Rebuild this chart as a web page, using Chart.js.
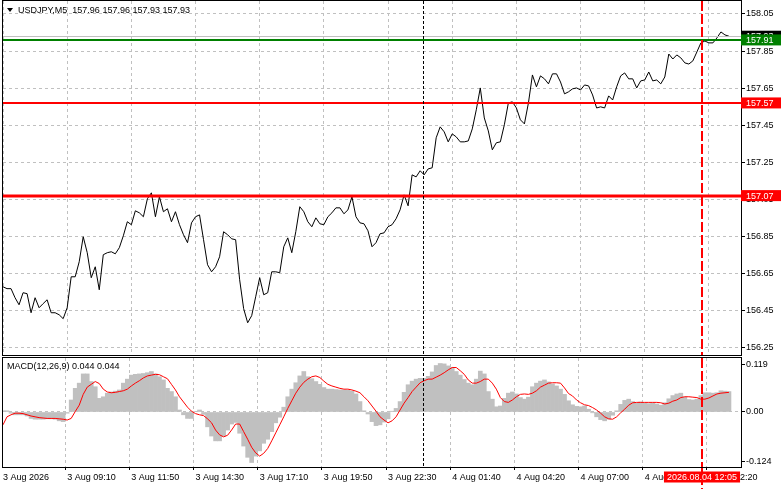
<!DOCTYPE html>
<html lang="en">
<head>
  <meta charset="UTF-8" />
  <title>USDJPY,M5 - MACD</title>
  <script src="https://cdn.jsdelivr.net/npm/chart.js"></script>
  <style>
    html, body { margin: 0; padding: 0; background: #fff; }
    body { width: 781px; height: 489px; position: relative; overflow: hidden; }
    canvas { position: absolute; left: 0; }
    #priceChart { top: 0; }
    #macdChart { top: 357px; }
  </style>
</head>
<body>
  <canvas id="priceChart" width="781" height="357"></canvas>
  <canvas id="macdChart" width="781" height="132"></canvas>

  <script>
    // time axis: one sample every 10 minutes, a label every 16 samples
    const tickLabels = ['3 Aug 2026', '3 Aug 09:10', '3 Aug 11:50', '3 Aug 14:30', '3 Aug 17:10', '3 Aug 19:50',
      '3 Aug 22:30', '4 Aug 01:40', '4 Aug 04:20', '4 Aug 07:00', '4 Aug 09:40', '4 Aug 12:20'];
    const samplesPerTick = 16;
    const totalSlots = 185;

    // close prices
    const closes = [
      156.578, 156.568, 156.568, 156.519, 156.481, 156.546, 156.541, 156.438, 156.519, 156.465,
      156.487, 156.508, 156.438, 156.438, 156.427, 156.406, 156.465, 156.632, 156.632, 156.713,
      156.848, 156.762, 156.627, 156.686, 156.562, 156.751, 156.762, 156.767, 156.756, 156.789,
      156.853, 156.929, 156.913, 156.988, 156.977, 156.956, 157.053, 157.085, 156.956, 157.064,
      156.983, 156.999, 156.929, 156.983, 156.913, 156.859, 156.816, 156.923, 156.956, 156.966,
      156.832, 156.697, 156.659, 156.686, 156.740, 156.875, 156.859, 156.837, 156.832, 156.616,
      156.460, 156.384, 156.422, 156.524, 156.627, 156.535, 156.546, 156.659, 156.659, 156.654,
      156.794, 156.842, 156.762, 156.875, 157.010, 156.983, 156.929, 156.902, 156.950, 156.918,
      156.913, 156.956, 156.977, 157.004, 157.004, 156.972, 156.993, 157.064, 156.956, 156.923,
      156.918, 156.880, 156.794, 156.816, 156.864, 156.869, 156.902, 156.913, 156.945, 156.993,
      157.074, 157.015, 157.182, 157.171, 157.204, 157.182, 157.214, 157.220, 157.382, 157.441,
      157.414, 157.360, 157.403, 157.387, 157.360, 157.360, 157.365, 157.430, 157.533, 157.651,
      157.489, 157.419, 157.317, 157.355, 157.360, 157.452, 157.570, 157.576, 157.543, 157.479,
      157.457, 157.570, 157.721, 157.657, 157.716, 157.700, 157.673, 157.727, 157.727, 157.683,
      157.619, 157.630, 157.646, 157.651, 157.640, 157.667, 157.662, 157.613, 157.543, 157.549,
      157.543, 157.608, 157.586, 157.657, 157.716, 157.732, 157.700, 157.700, 157.651, 157.689,
      157.694, 157.737, 157.689, 157.694, 157.673, 157.710, 157.834, 157.807, 157.829, 157.813,
      157.786, 157.780, 157.797, 157.845, 157.894, 157.904, 157.894, 157.894, 157.921, 157.953,
      157.937, 157.930
    ];

    // MACD(12,26,9): main histogram and signal line
    const macdMain = [
      0.003, 0.003, -0.003, -0.007, -0.007, -0.007, -0.010, -0.016, -0.018, -0.018,
      -0.018, -0.017, -0.017, -0.018, -0.022, -0.024, -0.003, 0.030, 0.059, 0.072,
      0.095, 0.095, 0.076, 0.063, 0.034, 0.038, 0.047, 0.050, 0.052, 0.055,
      0.072, 0.082, 0.092, 0.094, 0.095, 0.096, 0.098, 0.101, 0.095, 0.088,
      0.080, 0.059, 0.051, 0.038, 0.005, -0.007, -0.016, -0.016, 0.001, 0.005,
      -0.006, -0.037, -0.060, -0.072, -0.072, -0.060, -0.045, -0.030, -0.026, -0.053,
      -0.085, -0.113, -0.126, -0.110, -0.097, -0.078, -0.068, -0.049, -0.027, -0.013,
      0.012, 0.038, 0.057, 0.073, 0.090, 0.101, 0.088, 0.083, 0.076, 0.069,
      0.061, 0.057, 0.057, 0.056, 0.055, 0.055, 0.054, 0.052, 0.045, 0.026,
      0.003, -0.005, -0.024, -0.034, -0.032, -0.025, -0.017, 0.002, 0.009, 0.026,
      0.049, 0.068, 0.077, 0.082, 0.084, 0.084, 0.089, 0.100, 0.116, 0.121,
      0.120, 0.115, 0.111, 0.101, 0.092, 0.081, 0.072, 0.068, 0.082, 0.102,
      0.095, 0.051, 0.032, 0.013, 0.015, 0.034, 0.047, 0.050, 0.045, 0.036,
      0.032, 0.037, 0.063, 0.072, 0.077, 0.080, 0.075, 0.070, 0.065, 0.057,
      0.044, 0.028, 0.018, 0.014, 0.013, 0.015, 0.007, -0.002, -0.012, -0.019,
      -0.022, -0.018, -0.008, 0.003, 0.019, 0.029, 0.032, 0.026, 0.022, 0.025,
      0.022, 0.021, 0.022, 0.020, 0.017, 0.023, 0.033, 0.041, 0.045, 0.047,
      0.037, 0.031, 0.030, 0.032, 0.041, 0.048, 0.048, 0.047, 0.048, 0.053,
      0.052, 0.051
    ];
    const macdSignal = [
      -0.032, -0.012, -0.007, -0.003, -0.003, -0.004, -0.007, -0.010, -0.012, -0.014,
      -0.015, -0.016, -0.016, -0.016, -0.017, -0.018, -0.020, -0.016, 0.001, 0.017,
      0.044, 0.062, 0.069, 0.076, 0.071, 0.057, 0.050, 0.048, 0.049, 0.051,
      0.053, 0.057, 0.065, 0.072, 0.078, 0.085, 0.090, 0.092, 0.094, 0.093,
      0.088, 0.083, 0.069, 0.055, 0.038, 0.025, 0.012, 0.002, -0.004, -0.007,
      -0.009, -0.017, -0.027, -0.045, -0.057, -0.062, -0.058, -0.045, -0.030, -0.030,
      -0.049, -0.068, -0.088, -0.102, -0.110, -0.103, -0.091, -0.072, -0.052, -0.032,
      -0.012, 0.009, 0.028, 0.047, 0.062, 0.074, 0.082, 0.088, 0.090, 0.086,
      0.077, 0.069, 0.065, 0.062, 0.059, 0.057, 0.057, 0.055, 0.052, 0.048,
      0.038, 0.028, 0.015, 0.002, -0.012, -0.020, -0.027, -0.022, -0.012, 0.005,
      0.022, 0.036, 0.051, 0.062, 0.073, 0.078, 0.082, 0.082, 0.087, 0.092,
      0.098, 0.105, 0.111, 0.111, 0.103, 0.094, 0.080, 0.072, 0.072, 0.076,
      0.082, 0.082, 0.072, 0.057, 0.036, 0.026, 0.024, 0.030, 0.038, 0.044,
      0.045, 0.044, 0.047, 0.053, 0.062, 0.067, 0.072, 0.073, 0.073, 0.072,
      0.060, 0.046, 0.040, 0.030, 0.023, 0.018, 0.016, 0.011, 0.005, -0.003,
      -0.012, -0.017, -0.018, -0.012, -0.002, 0.007, 0.017, 0.023, 0.024, 0.024,
      0.024, 0.024, 0.024, 0.024, 0.023, 0.020, 0.022, 0.027, 0.030, 0.036,
      0.038, 0.038, 0.037, 0.036, 0.032, 0.032, 0.035, 0.040, 0.045, 0.047,
      0.048, 0.049
    ];

    // axis ticks and ranges
    const priceTicks = [156.25, 156.45, 156.65, 156.85, 157.05, 157.25, 157.45, 157.65, 157.85, 158.05];
    const priceMin = 156.210, priceMax = 158.120;
    const macdTicks = [-0.124, 0, 0.119];
    const macdMin = -0.1372, macdMax = 0.1347;

    // horizontal levels, bid and event markers (sample index)
    const levelPrices = [157.91, 157.57, 157.07];
    const levelColors = ['#008000', '#ff0000', '#ff0000'];
    const levelWidths = [2, 2, 3];
    const bidPrice = 157.93;
    const headerText = 'USDJPY,M5  157.96 157.96 157.93 157.93';
    const macdText = 'MACD(12,26,9) 0.044 0.044';
    const sessionMark = 104.8;
    const cursorMark = 174.2;
    const cursorText = '2026.08.04 12:05';

    const FONT = '"Liberation Sans", Arial, sans-serif';
    const GRID = '#c0c0c0';
    Chart.defaults.font.family = FONT;
    Chart.defaults.font.size = 9;
    Chart.defaults.color = '#000';

    const isTimeTick = i => i >= 0 && i % samplesPerTick === 0 && i / samplesPerTick < tickLabels.length;
    const labels = Array.from({ length: totalSlots }, (_, i) => isTimeTick(i) ? tickLabels[i / samplesPerTick] : '');

    // axes must not push the plot area around for half-label overflow
    function noPad(s) {
      s.paddingTop = 0; s.paddingBottom = 0; s.paddingLeft = 0; s.paddingRight = 0;
    }

    function vline(ctx, x, top, bottom, color, width, dash) {
      ctx.save();
      ctx.strokeStyle = color;
      ctx.lineWidth = width;
      ctx.setLineDash(dash || []);
      ctx.beginPath();
      ctx.moveTo(x, top);
      ctx.lineTo(x, bottom);
      ctx.stroke();
      ctx.restore();
    }

    function hline(ctx, y, left, right, color, width) {
      ctx.save();
      ctx.strokeStyle = color;
      ctx.lineWidth = width;
      ctx.beginPath();
      ctx.moveTo(left, y);
      ctx.lineTo(right, y);
      ctx.stroke();
      ctx.restore();
    }

    function frame(ctx, a) {
      ctx.save();
      ctx.strokeStyle = '#000';
      ctx.lineWidth = 1;
      ctx.strokeRect(Math.floor(a.left) - 0.5, Math.floor(a.top) - 0.5,
        Math.round(a.right - a.left) + 1, Math.round(a.bottom - a.top) + 1);
      ctx.restore();
    }

    function priceBox(ctx, chart, y, text, bg) {
      const a = chart.chartArea;
      ctx.save();
      ctx.fillStyle = bg;
      ctx.fillRect(a.right, y - 5.5, chart.width - a.right, 11);
      ctx.fillStyle = '#fff';
      ctx.font = '9px ' + FONT;
      ctx.textBaseline = 'middle';
      ctx.fillText(text, a.right + 5, y + 0.5);
      ctx.restore();
    }

    const timeGrid = {
      color: c => isTimeTick(c.index) ? GRID : 'rgba(0,0,0,0)',
      tickColor: c => isTimeTick(c.index) ? '#000' : 'rgba(0,0,0,0)',
      lineWidth: 1
    };

    // levels, markers and labels on the price panel
    const priceOverlay = {
      id: 'priceOverlay',
      afterDatasetsDraw(chart) {
        const { ctx, chartArea: a, scales: { x, y } } = chart;
        hline(ctx, Math.round(y.getPixelForValue(bidPrice)) + 0.5, a.left, a.right, GRID, 1);
        levelPrices.forEach((p, i) => {
          hline(ctx, Math.round(y.getPixelForValue(p)), a.left, a.right, levelColors[i], levelWidths[i]);
        });
        vline(ctx, Math.round(x.getPixelForValue(sessionMark)) + 0.5, a.top, a.bottom, '#000', 1, [3, 2]);
        vline(ctx, Math.round(x.getPixelForValue(cursorMark)), a.top, a.bottom, '#ff0000', 2, [10, 3]);
        frame(ctx, a);
      },
      afterDraw(chart) {
        const { ctx, scales: { y } } = chart;
        priceBox(ctx, chart, y.getPixelForValue(bidPrice), bidPrice.toFixed(2), '#000');
        levelPrices.forEach((p, i) => priceBox(ctx, chart, y.getPixelForValue(p), p.toFixed(2), levelColors[i]));
        // header: small triangle + symbol text
        ctx.save();
        ctx.fillStyle = '#000';
        ctx.beginPath();
        ctx.moveTo(7, 8); ctx.lineTo(13, 8); ctx.lineTo(10, 12);
        ctx.closePath();
        ctx.fill();
        ctx.font = '9px ' + FONT;
        ctx.textBaseline = 'middle';
        ctx.fillText(headerText, 18, 10.5);
        ctx.restore();
      }
    };

    const macdOverlay = {
      id: 'macdOverlay',
      afterDatasetsDraw(chart) {
        const { ctx, chartArea: a, scales: { x } } = chart;
        vline(ctx, Math.round(x.getPixelForValue(sessionMark)) + 0.5, a.top, a.bottom, '#000', 1, [3, 2]);
        vline(ctx, Math.round(x.getPixelForValue(cursorMark)), a.top, chart.height, '#ff0000', 2, [10, 3]);
        frame(ctx, a);
      },
      afterDraw(chart) {
        const { ctx, chartArea: a, scales: { x } } = chart;
        ctx.save();
        ctx.font = '9px ' + FONT;
        ctx.fillStyle = '#000';
        ctx.textBaseline = 'middle';
        ctx.fillText(macdText, 7, 10);
        // red time box under the cursor line
        const cx = Math.round(x.getPixelForValue(cursorMark));
        const w = ctx.measureText(cursorText).width + 6;
        ctx.fillStyle = '#ff0000';
        ctx.fillRect(cx - w / 2, a.bottom + 4.5, w, 11);
        ctx.fillStyle = '#fff';
        ctx.textAlign = 'center';
        ctx.fillText(cursorText, cx, a.bottom + 10.5);
        ctx.restore();
      }
    };

    new Chart(document.getElementById('priceChart'), {
      type: 'line',
      data: {
        labels: labels,
        datasets: [{
          data: closes,
          borderColor: '#000',
          borderWidth: 1,
          pointRadius: 0,
          tension: 0
        }]
      },
      options: {
        responsive: false,
        animation: false,
        events: [],
        layout: { autoPadding: false, padding: { left: 3, top: 1, right: 0, bottom: 2 } },
        plugins: { legend: { display: false }, tooltip: { enabled: false } },
        scales: {
          x: {
            type: 'category',
            offset: false,
            ticks: { display: false },
            grid: Object.assign({ drawTicks: false }, timeGrid),
            border: { display: false, dash: [3, 3] },
            afterFit: s => { s.height = 0; noPad(s); }
          },
          y: {
            position: 'right',
            min: priceMin,
            max: priceMax,
            afterFit: s => { s.width = 40; noPad(s); },
            afterBuildTicks: s => { s.ticks = priceTicks.map(v => ({ value: v })); },
            ticks: { callback: v => v.toFixed(2), padding: 1 },
            grid: { color: GRID, tickColor: '#000', tickLength: 4 },
            border: { display: false, dash: [3, 3] }
          }
        }
      },
      plugins: [priceOverlay]
    });

    new Chart(document.getElementById('macdChart'), {
      type: 'bar',
      data: {
        labels: labels,
        datasets: [{
          type: 'line',
          data: macdSignal,
          borderColor: '#ff0000',
          borderWidth: 1,
          pointRadius: 0,
          tension: 0,
          order: 0
        }, {
          type: 'bar',
          data: macdMain,
          backgroundColor: '#c0c0c0',
          borderWidth: 0,
          barPercentage: 1,
          categoryPercentage: 1,
          order: 1
        }]
      },
      options: {
        responsive: false,
        animation: false,
        events: [],
        layout: { autoPadding: false, padding: { left: 3, top: 1, right: 0, bottom: 0 } },
        plugins: { legend: { display: false }, tooltip: { enabled: false } },
        scales: {
          x: {
            type: 'category',
            offset: false,
            ticks: { autoSkip: false, maxRotation: 0, minRotation: 0, align: 'start', padding: 2 },
            grid: Object.assign({ drawTicks: true, tickLength: 3 }, timeGrid),
            border: { display: false, dash: [3, 3] },
            afterFit: s => { s.height = 22; noPad(s); }
          },
          y: {
            position: 'right',
            min: macdMin,
            max: macdMax,
            afterFit: s => { s.width = 40; noPad(s); },
            afterBuildTicks: s => { s.ticks = macdTicks.map(v => ({ value: v })); },
            ticks: { callback: v => v === 0 ? '0.00' : v.toFixed(3), padding: 1 },
            grid: {
              color: c => (c.tick && c.tick.value === 0) ? GRID : 'rgba(0,0,0,0)',
              tickColor: '#000',
              tickLength: 4
            },
            border: { display: false, dash: [3, 3] }
          }
        }
      },
      plugins: [macdOverlay]
    });
  </script>
</body>
</html>
